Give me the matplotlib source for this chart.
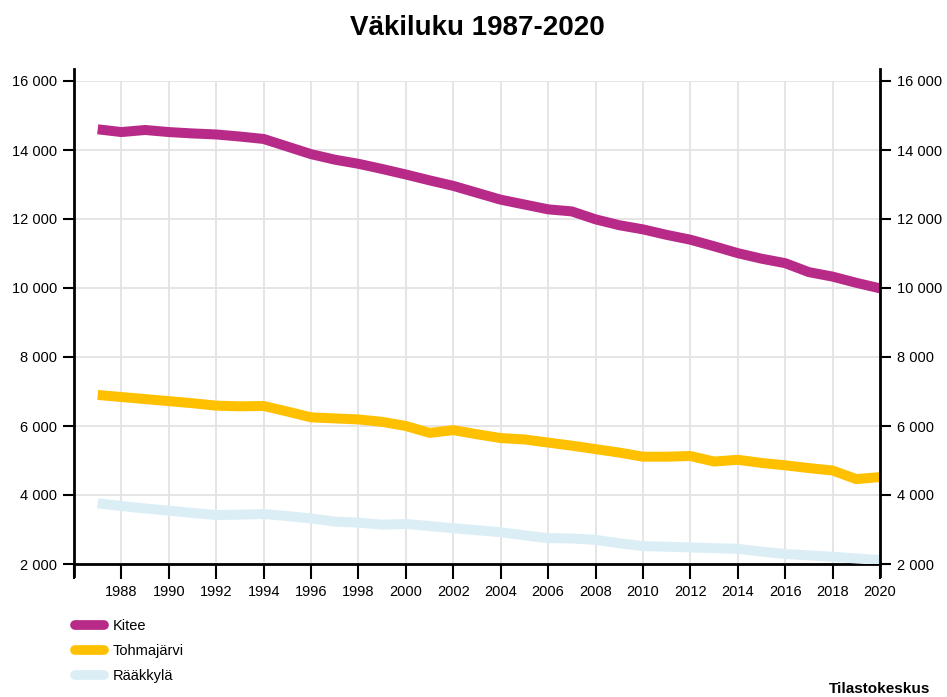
import numpy as np
import matplotlib
matplotlib.use("Agg")
import matplotlib.pyplot as plt
from matplotlib.ticker import FuncFormatter

plt.rcParams['font.family'] = ['Liberation Sans', 'DejaVu Sans']

# data
years = list(range(1987, 2021))
kitee = [14600, 14520, 14580, 14520, 14480, 14450, 14390, 14320, 14100, 13880,
         13720, 13600, 13450, 13290, 13120, 12960, 12760, 12560, 12420, 12280,
         12220, 11990, 11820, 11700, 11540, 11400, 11210, 11010, 10850, 10720,
         10460, 10330, 10150, 9990]
tohmajarvi = [6900, 6840, 6780, 6720, 6660, 6590, 6570, 6580, 6420, 6250,
              6220, 6190, 6120, 6000, 5800, 5880, 5760, 5650, 5610, 5520,
              5430, 5330, 5230, 5110, 5110, 5130, 4970, 5020, 4930, 4860,
              4780, 4710, 4460, 4520]
raakkyla = [3760, 3680, 3610, 3545, 3480, 3420, 3430, 3450, 3390, 3320,
            3230, 3200, 3140, 3160, 3100, 3035, 2980, 2920, 2830, 2750,
            2740, 2700, 2600, 2520, 2500, 2480, 2460, 2440, 2360, 2290,
            2250, 2210, 2160, 2115]
names = ["Kitee", "Tohmajärvi", "Rääkkylä"]
colors = ["#b72a88", "#ffc000", "#dbeef6"]
yticks = list(range(2000, 16001, 2000))
xticks = list(range(1986, 2021, 2))

W, H = 947, 697
fig = plt.figure(figsize=(W / 100, H / 100), dpi=100)
ax = fig.add_axes([74 / W, 1 - 564 / H, (880 - 74) / W, (564 - 81) / H])

for vals, name, c in zip([kitee, tohmajarvi, raakkyla], names, colors):
    ax.plot(years, vals, color=c, lw=7.2, label=name, solid_capstyle='butt',
            solid_joinstyle='round', zorder=3)

ax.set_xlim(1986, 2020)
ax.set_ylim(2000, 16000)
ax.set_xticks(xticks)
ax.set_xticklabels(["" if x == 1986 else str(x) for x in xticks])
ax.set_yticks(yticks)
fmt = FuncFormatter(lambda v, p: f"{int(v):,}".replace(",", " "))
ax.yaxis.set_major_formatter(fmt)
ax.grid(True, color="#e3e3e3", lw=1.3, zorder=0)
ax.tick_params(axis='both', labelsize=10.5, colors='black', width=1.5, length=8)
ax.tick_params(axis='x', length=11, pad=4)
ax.tick_params(axis='y', which='both', right=True, labelright=True, pad=4)

for s in ['top', 'left', 'right']:
    ax.spines[s].set_visible(False)
ax.spines['bottom'].set_linewidth(2)
# axis lines reaching a bit past the plotted range
ax.axvline(1986, ymin=-0.024, ymax=1.024, color='black', lw=2, clip_on=False, zorder=4)
ax.axvline(2020, ymin=-0.024, ymax=1.024, color='black', lw=2, clip_on=False, zorder=4)

fig.text(477 / W, 1 - 28 / H, "Väkiluku 1987-2020", ha='center', va='center',
         fontsize=20, fontweight='bold')

leg = fig.legend(loc='upper left', bbox_to_anchor=(69 / W, 1 - 613 / H), frameon=False,
                 fontsize=10.5, handlelength=2.0, handletextpad=0.6, labelspacing=0.75,
                 borderaxespad=0)
for h in leg.get_lines():
    h.set_solid_capstyle('round')
    h.set_linewidth(7)

fig.text(930 / W, 1 - 689 / H, "Tilastokeskus", ha='right', va='center',
         fontsize=11, fontweight='bold')

fig.savefig("out.png", dpi=100)
